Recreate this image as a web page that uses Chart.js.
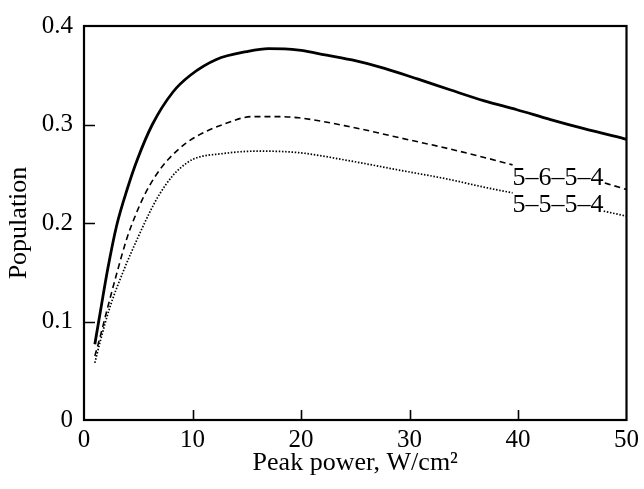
<!DOCTYPE html>
<html>
<head>
<meta charset="utf-8">
<script src="https://cdn.jsdelivr.net/npm/chart.js@4.4.1/dist/chart.umd.min.js"></script>
<style>
html,body{margin:0;padding:0;background:#fff;}
canvas{display:block;}
</style>
</head>
<body>
<canvas id="c" width="644" height="489"></canvas>
<script>
// ---- data ----
const xTicks = [0, 10, 20, 30, 40, 50];
const yTicks = [0, 0.1, 0.2, 0.3, 0.4];

const totalX = [1, 1.4, 2.2, 3, 4, 4.9, 6.3, 8.2, 9.8, 12.2, 15, 17, 19.8, 21.6, 24.7, 27.7, 30.8, 33.8, 36.9, 39.9, 43, 46, 50];
const totalY = [0.077, 0.103, 0.154, 0.197, 0.235, 0.264, 0.300, 0.333, 0.350, 0.366, 0.374, 0.377, 0.3755, 0.372, 0.3655, 0.357, 0.346, 0.335, 0.324, 0.315, 0.305, 0.296, 0.285];

const s5654X = [1.0, 1.5, 2.2, 3.05, 3.97, 4.9, 5.65, 6.6, 7.8, 9.4, 10.7, 12.8, 15.5, 18, 19.8, 24.4, 28.9, 33.5, 37.2, 39.5, 43.7, 48, 50];
const s5654Y = [0.065, 0.085, 0.115, 0.150, 0.185, 0.212, 0.230, 0.248, 0.265, 0.281, 0.290, 0.300, 0.308, 0.308, 0.3068, 0.298, 0.287, 0.2757, 0.2657, 0.259, null, 0.2406, 0.234];

const s5554X = [1.0, 1.5, 2.4, 3.7, 5.0, 6.2, 7.0, 8.1, 8.9, 10.1, 12.8, 16, 19.8, 24.4, 28.9, 33.5, 37.2, 39.5, 43.7, 47.9, 50];
const s5554Y = [0.058, 0.080, 0.115, 0.153, 0.186, 0.214, 0.230, 0.247, 0.256, 0.265, 0.2705, 0.273, 0.2714, 0.2633, 0.254, 0.2446, 0.2356, 0.2306, null, 0.212, 0.207];

const seriesLabels = ['5\u20136\u20135\u20134', '5\u20135\u20135\u20134'];
const labelAnchorX = [39.5, 39.5];
const labelAnchorY = [0.239, 0.2112];

const xTitle = 'Peak power, W/cm\u00B2';
const yTitle = 'Population';

// ---- build ----
function pts(xs, ys){ return xs.map((x,i)=>({x:x, y:ys[i]})); }

const FONT = '"Liberation Serif", "Times New Roman", serif';

const framePlugin = {
  id: 'frame',
  afterDatasetsDraw(chart){
    const {ctx, chartArea:a, scales:{x, y}} = chart;
    ctx.save();
    ctx.strokeStyle = '#000';
    ctx.lineWidth = 1.6;
    ctx.beginPath();
    xTicks.forEach(v => {
      const px = Math.round(x.getPixelForValue(v)) + 0.5;
      if (v > x.min && v < x.max) { ctx.moveTo(px, a.bottom); ctx.lineTo(px, a.bottom - 10); }
    });
    yTicks.forEach(v => {
      const py = Math.round(y.getPixelForValue(v)) + 0.5;
      if (v > y.min && v < y.max) { ctx.moveTo(a.left, py); ctx.lineTo(a.left + 11, py); }
    });
    ctx.stroke();
    ctx.lineWidth = 2.2;
    ctx.strokeRect(a.left, a.top, a.right - a.left, a.bottom - a.top);
    // curve labels
    ctx.fillStyle = '#000';
    ctx.font = '26px ' + FONT;
    ctx.textAlign = 'left';
    ctx.textBaseline = 'alphabetic';
    seriesLabels.forEach((t, i) => {
      ctx.fillText(t, x.getPixelForValue(labelAnchorX[i]), y.getPixelForValue(labelAnchorY[i]));
    });
    ctx.restore();
  }
};

new Chart(document.getElementById('c'), {
  type: 'line',
  data: {
    datasets: [
      { data: pts(totalX, totalY), borderColor: '#000', borderWidth: 2.8, pointRadius: 0, cubicInterpolationMode: 'monotone', fill: false },
      { data: pts(s5654X, s5654Y), borderColor: '#000', borderWidth: 1.6, borderDash: [6, 4], pointRadius: 0, cubicInterpolationMode: 'monotone', fill: false, spanGaps: false },
      { data: pts(s5554X, s5554Y), borderColor: '#000', borderWidth: 1.7, borderDash: [1.5, 1.7], pointRadius: 0, cubicInterpolationMode: 'monotone', fill: false, spanGaps: false }
    ]
  },
  options: {
    responsive: false,
    animation: false,
    devicePixelRatio: 1,
    events: [],
    layout: { padding: { left: 0, right: 14, top: 21, bottom: 0 } },
    plugins: { legend: { display: false }, tooltip: { enabled: false } },
    scales: {
      x: {
        type: 'linear', min: 0, max: 50,
        afterBuildTicks(s){ s.ticks = xTicks.map(v => ({value: v})); },
        afterFit(s){ s.height = 69; },
        grid: { display: false, drawTicks: false },
        border: { display: false },
        ticks: { color: '#000', font: { family: FONT, size: 25 }, padding: 5, maxRotation: 0, autoSkip: false,
                 callback: v => String(v) },
        title: { display: true, text: xTitle, color: '#000', font: { family: FONT, size: 26 }, padding: { top: 0, bottom: 10 } }
      },
      y: {
        type: 'linear', min: 0, max: 0.4,
        afterBuildTicks(s){ s.ticks = yTicks.map(v => ({value: v})); },
        afterFit(s){ s.width = 84; },
        grid: { display: false, drawTicks: false },
        border: { display: false },
        ticks: { color: '#000', font: { family: FONT, size: 25 }, padding: 11, autoSkip: false,
                 callback: v => (v === 0 ? '0' : String(Math.round(v * 10) / 10)) },
        title: { display: true, text: yTitle, color: '#000', font: { family: FONT, size: 26 }, padding: { top: 4, bottom: 0 } }
      }
    }
  },
  plugins: [framePlugin]
});
</script>
</body>
</html>
